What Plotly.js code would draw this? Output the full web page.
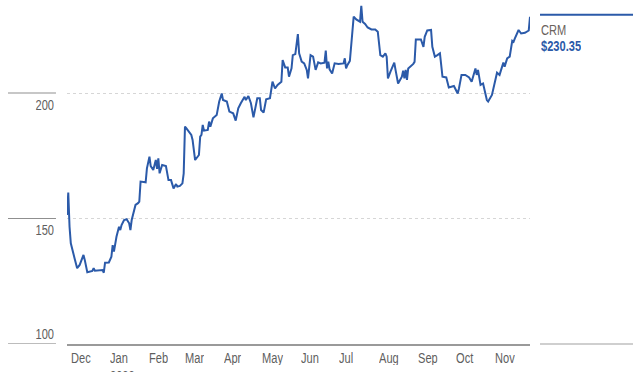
<!DOCTYPE html>
<html>
<head>
<meta charset="utf-8">
<script src="https://cdn.plot.ly/plotly-3.0.1.min.js"></script>
<style>
  html, body { margin: 0; padding: 0; background: #ffffff; }
  #chart { width: 640px; height: 372px; }
</style>
</head>
<body>
<div id="chart"></div>
<script>
// ---- Data ----
const dates = [
  "2022-11-29","2022-11-30","2022-12-01","2022-12-02","2022-12-05","2022-12-07","2022-12-09","2022-12-12","2022-12-13","2022-12-15",
  "2022-12-19","2022-12-20","2022-12-21","2022-12-27","2022-12-28","2022-12-29",
  "2023-01-01","2023-01-03","2023-01-04","2023-01-05","2023-01-07","2023-01-09","2023-01-10","2023-01-11","2023-01-13","2023-01-15",
  "2023-01-17","2023-01-18","2023-01-19","2023-01-21","2023-01-22","2023-01-24","2023-01-25","2023-01-26","2023-01-30","2023-01-31",
  "2023-02-02","2023-02-03","2023-02-05","2023-02-06","2023-02-07","2023-02-08","2023-02-09","2023-02-10","2023-02-12","2023-02-15",
  "2023-02-17","2023-02-19","2023-02-21","2023-02-23","2023-02-24","2023-02-26","2023-02-28",
  "2023-03-01","2023-03-02","2023-03-03","2023-03-07","2023-03-08","2023-03-10","2023-03-13","2023-03-14","2023-03-15","2023-03-16",
  "2023-03-17","2023-03-20","2023-03-21","2023-03-22","2023-03-24","2023-03-27","2023-03-29","2023-03-31",
  "2023-04-01","2023-04-04","2023-04-06","2023-04-09","2023-04-11","2023-04-13","2023-04-15","2023-04-18","2023-04-19","2023-04-21",
  "2023-04-23","2023-04-25","2023-04-28","2023-04-30",
  "2023-05-01","2023-05-03","2023-05-05","2023-05-08","2023-05-10","2023-05-12","2023-05-14","2023-05-17","2023-05-18","2023-05-20",
  "2023-05-22","2023-05-23","2023-05-25","2023-05-26","2023-05-28","2023-05-30","2023-05-31",
  "2023-06-02","2023-06-04","2023-06-06","2023-06-07","2023-06-09","2023-06-11","2023-06-13","2023-06-15","2023-06-17","2023-06-20",
  "2023-06-21","2023-06-22","2023-06-23","2023-06-24","2023-06-26","2023-06-28",
  "2023-07-01","2023-07-05","2023-07-06","2023-07-07","2023-07-08","2023-07-10","2023-07-12","2023-07-13","2023-07-15","2023-07-18",
  "2023-07-19","2023-07-20","2023-07-22","2023-07-24","2023-07-27","2023-07-30",
  "2023-08-01","2023-08-03","2023-08-05","2023-08-07","2023-08-08","2023-08-09","2023-08-11","2023-08-14","2023-08-15","2023-08-17",
  "2023-08-20","2023-08-21","2023-08-22","2023-08-23","2023-08-24","2023-08-25","2023-08-29","2023-08-30","2023-08-31",
  "2023-09-04","2023-09-06","2023-09-07","2023-09-09","2023-09-12","2023-09-13","2023-09-15","2023-09-17","2023-09-19","2023-09-21",
  "2023-09-24","2023-09-26","2023-09-28","2023-09-30",
  "2023-10-03","2023-10-04","2023-10-06","2023-10-09","2023-10-12","2023-10-14","2023-10-17","2023-10-18","2023-10-19","2023-10-21",
  "2023-10-23","2023-10-24","2023-10-26","2023-10-27","2023-10-30",
  "2023-11-03","2023-11-05","2023-11-08","2023-11-09","2023-11-11","2023-11-13","2023-11-15","2023-11-16","2023-11-17","2023-11-20",
  "2023-11-22","2023-11-25","2023-11-28","2023-11-29"
];
const prices = [
  151.4,160.3,146.7,140.1,134.1,130.2,131.5,135.5,133.5,128.6,
  129.1,130.2,129.2,129.5,128.4,132.4,
  132.5,134.8,139.4,136.8,142.7,146.7,145.4,147.4,149.4,149.7,
  148.1,145.4,149.4,153.4,155.4,156.1,156.7,164.7,164.4,170.0,
  174.6,170.9,169.3,171.3,173.3,169.8,174.0,168.0,171.3,170.9,
  165.3,165.3,162.0,163.7,162.7,163.0,164.0,
  168.0,186.6,186.0,183.3,181.3,173.3,175.3,182.6,183.3,187.3,
  185.0,185.3,188.6,186.6,189.9,191.2,196.6,199.8,
  197.2,196.6,192.6,191.9,189.0,193.9,195.9,198.5,197.2,198.8,
  195.9,190.3,197.9,197.9,
  193.2,192.2,197.5,197.9,204.5,201.8,203.2,204.5,213.1,210.2,
  210.2,206.5,209.8,215.1,215.5,223.5,215.8,
  212.5,211.8,209.2,205.8,215.1,214.5,209.2,212.2,211.8,212.1,
  216.9,209.8,212.5,209.4,207.8,211.8,
  211.6,211.8,213.8,209.8,211.1,212.8,225.1,230.4,229.3,228.4,
  234.7,228.4,227.5,226.1,225.3,225.3,
  224.4,215.1,214.5,215.8,214.5,205.8,208.5,212.1,209.2,203.8,
  206.5,208.9,205.8,209.2,205.2,209.8,211.6,212.4,221.3,
  221.3,218.4,222.4,224.9,225.1,218.4,214.5,215.1,215.8,206.5,
  206.2,202.2,202.5,202.8,
  199.8,201.8,207.2,207.2,206.2,204.5,209.8,207.2,209.2,203.2,
  203.8,201.8,197.2,196.6,199.2,
  208.1,207.2,212.1,210.5,213.8,214.5,220.8,220.4,221.7,225.1,
  223.7,224.0,224.9,230.35
];
const ticker = "CRM";
const lastPriceLabel = "$230.35";
const monthTickDates = ["2022-12-01","2023-01-01","2023-02-01","2023-03-01","2023-04-01","2023-05-01",
                        "2023-06-01","2023-07-01","2023-08-01","2023-09-01","2023-10-01","2023-11-01"];
const monthTickText = ["Dec","Jan","Feb","Mar","Apr","May","Jun","Jul","Aug","Sep","Oct","Nov"];
const yearLabel = "2023";
const yTickVals = [250, 200, 150, 100];
const yTickText = ["250", "200", "150", "100"];

// ---- Styling ----
const BLUE = "#2b5aa9";
const FONT = "Liberation Sans, Arial, sans-serif";
const GREY_TXT = "#5e5e5e";
const FS = 15;
const NARROW = 0.74;   // horizontal squeeze to imitate the condensed face
const yMin = 100, yMax = 237.05;

const annotations = [];
monthTickDates.forEach((d, i) => {
  annotations.push({
    x: d, xref: "x", y: 0, yref: "paper", xanchor: "left", yanchor: "middle",
    yshift: -13, xshift: -1, text: monthTickText[i], showarrow: false, height: 15,
    font: {family: FONT, size: FS, color: GREY_TXT}
  });
});
annotations.push({
  x: monthTickDates[1], xref: "x", y: 0, yref: "paper", xanchor: "left", yanchor: "middle",
  yshift: -31, xshift: -1, text: yearLabel, showarrow: false, height: 15,
  font: {family: FONT, size: FS, color: GREY_TXT}
});
yTickVals.forEach((v, i) => {
  let a = {
    x: -0.0238, xref: "paper", xanchor: "right", yanchor: "middle",
    text: yTickText[i], showarrow: false, height: 15,
    font: {family: FONT, size: FS, color: GREY_TXT}
  };
  if (v > yMax) { a.y = 1; a.yref = "paper"; a.yshift = 7; }
  else if (v <= yMin) { a.y = v; a.yref = "y"; a.yshift = 11; }
  else { a.y = v; a.yref = "y"; a.yshift = -11; }
  annotations.push(a);
});
annotations.push({
  x: 1.0216, xref: "paper", y: 0.9128, yref: "paper", xanchor: "left", yanchor: "middle",
  text: ticker, showarrow: false, xshift: -1, height: 14,
  font: {family: FONT, size: FS, color: "#6a625c"}
});
annotations.push({
  x: 1.0216, xref: "paper", y: 0.866, yref: "paper", xanchor: "left", yanchor: "middle",
  text: "<b>" + lastPriceLabel + "</b>", showarrow: false, xshift: -1, height: 14,
  font: {family: FONT, size: FS, color: BLUE}
});

const shapes = [];
yTickVals.filter(v => v >= yMin && v <= yMax).forEach(v => {
  shapes.push({
    type: "line", xref: "paper", yref: "y", x0: -0.1274, x1: -0.0238, y0: v, y1: v,
    line: {color: v === yMin ? "#a6a6a6" : "#8f8f8f", width: v === yMin ? 1.5 : 1}
  });
});
shapes.push({
  type: "line", xref: "paper", yref: "paper", x0: 1.0216, x1: 1.2225, y0: 0.9573, y1: 0.9573,
  line: {color: BLUE, width: 2}
});
shapes.push({
  type: "line", xref: "paper", yref: "paper", x0: 1.0216, x1: 1.2225, y0: 0, y1: 0,
  line: {color: "#cfcfcf", width: 2}
});

const trace = {
  x: dates, y: prices, type: "scatter", mode: "lines",
  line: {color: BLUE, width: 2}, hoverinfo: "skip"
};

const layout = {
  width: 640, height: 372,
  margin: {l: 67, r: 110, t: 0, b: 28, pad: 0},
  paper_bgcolor: "#ffffff", plot_bgcolor: "#ffffff",
  showlegend: false,
  xaxis: {
    type: "date", range: [dates[0], dates[dates.length - 1]],
    showgrid: false, zeroline: false, showticklabels: false, ticks: "",
    showline: true, linecolor: "#9a9a9a", linewidth: 2
  },
  yaxis: {
    range: [yMin, yMax], tickvals: yTickVals, showticklabels: false, ticks: "",
    showgrid: true, gridcolor: "#d6d6d6", griddash: "dot", gridwidth: 1,
    zeroline: false, showline: false
  },
  annotations: annotations,
  shapes: shapes,
  font: {family: FONT}
};

Plotly.newPlot("chart", [trace], layout, {staticPlot: true, displayModeBar: false}).then(gd => {
  // squeeze annotation texts horizontally (condensed look), keeping their anchored edge fixed
  gd.querySelectorAll("g.annotation").forEach((g, k) => {
    const idx = g.hasAttribute("data-index") ? +g.getAttribute("data-index") : k;
    const ann = annotations[idx];
    const t = g.querySelector("text");
    if (!t || !ann) return;
    t.style.transformBox = "fill-box";
    t.style.transformOrigin = ann.xanchor === "right" ? "right center" : "left center";
    t.style.transform = "scaleX(" + NARROW + ")";
  });
});
</script>
</body>
</html>
